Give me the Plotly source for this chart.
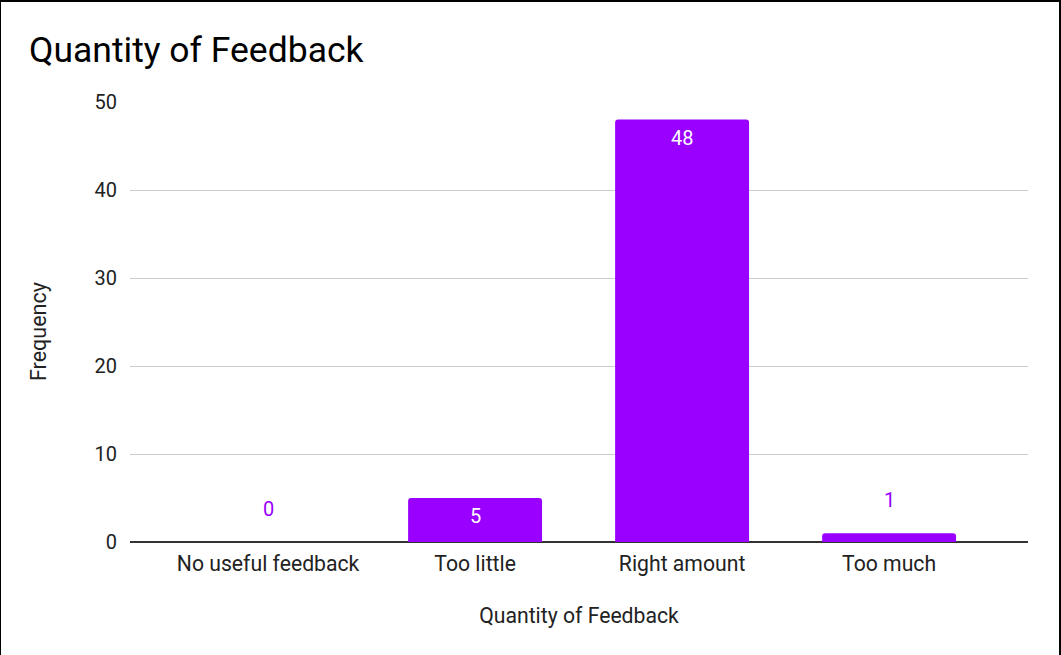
import plotly.graph_objects as go

# Survey results: how much feedback respondents received
categories = ["No useful feedback", "Too little", "Right amount", "Too much"]
frequency = [0, 5, 48, 1]

BAR_COLOR = "#9900ff"
FONT = "Roboto, Arial, sans-serif"

W, H = 1061, 655
ML, MR, MT, MB = 130, 33, 102, 113
PW, PH = W - ML - MR, H - MT - MB

fig = go.Figure(
    go.Bar(
        x=categories,
        y=frequency,
        marker=dict(color=BAR_COLOR, cornerradius=3, line=dict(width=0)),
        width=0.647,
        hoverinfo="x+y",
    )
)


def px_x(px):
    return (px - ML) / PW


def px_y(py):
    return 1 - (py - MT) / PH


# Value labels: white inside tall bars, purple above short ones
annotations = []
for cat, val in zip(categories, frequency):
    inside = val >= 5
    annotations.append(
        dict(
            x=cat,
            y=val,
            text=str(val),
            showarrow=False,
            yshift=-18 if inside else 33,
            font=dict(family=FONT, size=20, color="white" if inside else BAR_COLOR),
        )
    )

# Vertical axis title
annotations.append(
    dict(
        text="Frequency",
        xref="paper", yref="paper",
        x=px_x(38), y=px_y(332),
        xanchor="center", yanchor="middle",
        textangle=-90,
        showarrow=False,
        font=dict(family=FONT, size=21.5, color="#222222"),
    )
)

# Frame drawn around the chart (left, top, right edges)
shapes = [
    dict(type="line", xref="paper", yref="paper",
         x0=px_x(0.5), x1=px_x(0.5), y0=px_y(0), y1=px_y(H),
         line=dict(color="#000000", width=1)),
    dict(type="line", xref="paper", yref="paper",
         x0=px_x(0), x1=px_x(W), y0=px_y(1), y1=px_y(1),
         line=dict(color="#000000", width=2)),
    dict(type="line", xref="paper", yref="paper",
         x0=px_x(1060), x1=px_x(1060), y0=px_y(0), y1=px_y(H),
         line=dict(color="#000000", width=2)),
]

fig.update_layout(
    width=W,
    height=H,
    margin=dict(l=ML, r=MR, t=MT, b=MB),
    paper_bgcolor="white",
    plot_bgcolor="white",
    font=dict(family=FONT, color="#222222"),
    showlegend=False,
    title=dict(
        text="Quantity of Feedback",
        x=29 / W,
        xanchor="left",
        y=1 - 50 / H,
        yanchor="middle",
        font=dict(family=FONT, size=35.5, color="#000000"),
    ),
    xaxis=dict(
        type="category",
        range=[-0.667, 3.671],
        showgrid=False,
        showline=False,
        ticks="",
        ticklabelstandoff=7,
        tickfont=dict(family=FONT, size=21.2, color="#222222"),
        title=dict(text="Quantity of Feedback",
                   font=dict(family=FONT, size=21.2, color="#222222"),
                   standoff=32),
    ),
    yaxis=dict(
        range=[0, 50],
        tickvals=[0, 10, 20, 30, 40, 50],
        showgrid=True,
        gridcolor="#cccccc",
        gridwidth=1,
        zeroline=True,
        zerolinecolor="#333333",
        zerolinewidth=1.5,
        showline=False,
        ticks="",
        ticklabelstandoff=12,
        tickfont=dict(family=FONT, size=20, color="#222222"),
    ),
    annotations=annotations,
    shapes=shapes,
)

fig.write_html("out.html")
